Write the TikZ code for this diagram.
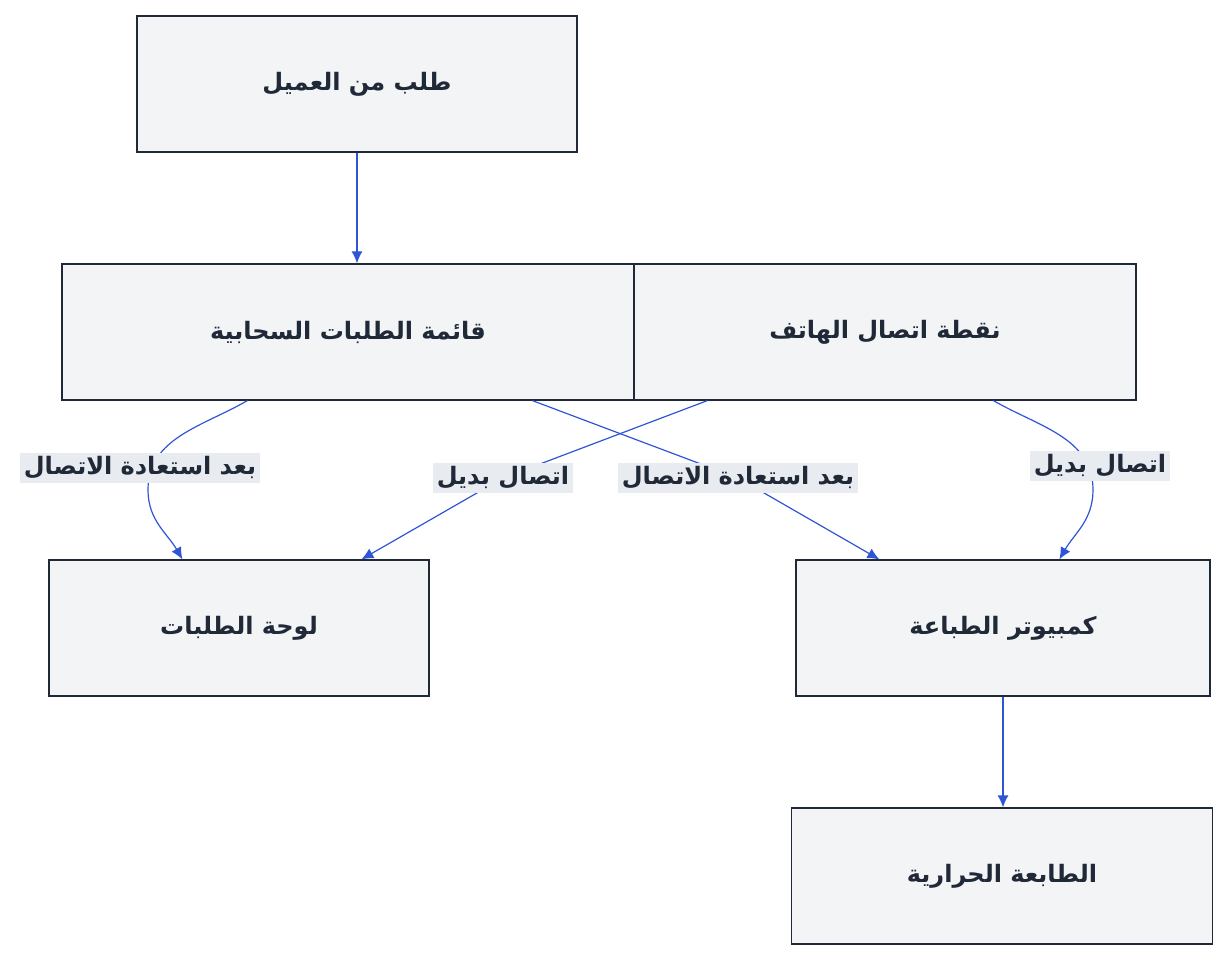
\documentclass[tikz,border=0pt]{standalone}
\usepackage{fontspec}
\newfontfamily\arabicfont[Script=Arabic]{DejaVu Sans}
\usetikzlibrary{calc}
\usetikzlibrary{arrows.meta}
\TeXXeTstate=1
\newcommand{\ar}[1]{\beginR#1\endR}
\definecolor{boxfill}{HTML}{F3F4F6}
\definecolor{boxline}{HTML}{1F2937}
\definecolor{link}{HTML}{2F55D4}
\definecolor{lblfill}{HTML}{E8EBEF}
\tikzset{
  box/.style={draw=boxline, fill=boxfill, line width=1.2pt, minimum height=136pt, font=\arabicfont\bfseries\fontsize{24}{28}\selectfont, text=boxline},
  lbl/.style={fill=lblfill, inner sep=4pt, font=\arabicfont\bfseries\fontsize{24}{28}\selectfont, text=boxline},
  link/.style={draw=link, line width=1.2pt, -{Latex[length=12pt,width=11pt]}},
}
\begin{document}
\begin{tikzpicture}[x=1pt,y=-1pt]
\useasboundingbox (0,0) rectangle (1232,960);
% nodes
\node[box, minimum width=440pt] (req) at (357,84) {\ar{طلب من العميل}};
\node[box, minimum width=572pt] (cloud) at (348,332) {\ar{قائمة الطلبات السحابية}};
\node[box, minimum width=502pt] (phone) at (885,332) {\ar{نقطة اتصال الهاتف}};
\node[box, minimum width=380pt] (board) at (239,628) {\ar{لوحة الطلبات}};
\node[box, minimum width=414pt] (pc) at (1003,628) {\ar{كمبيوتر الطباعة}};
\node[box, minimum width=421pt] (printer) at (1002,876) {\ar{الطابعة الحرارية}};
% connectors
\draw[link] (req) -- (req |- cloud.north);
\draw[link] ($(cloud.south west)+(186,0)$) to[out=-150,in=90] (148,490) to[out=-90,in=120] ($(board.north west)+(134,0)$);
\draw[link] ($(phone.south west)+(74,0)$) -- (503,478) -- ($(board.north west)+(313,0)$);
\draw[link] ($(cloud.south west)+(471,0)$) -- (738,478) -- ($(pc.north west)+(84,0)$);
\draw[link] ($(phone.south west)+(360,0)$) to[out=-30,in=90] (1093,490) to[out=-90,in=60] ($(pc.north west)+(264,0)$);
\draw[link] (pc) -- (pc.south |- printer.north);
% labels
\node[lbl] (l1) at (140,468) {\ar{بعد استعادة الاتصال}};
\node[lbl] (l2) at (503,478) {\ar{اتصال بديل}};
\node[lbl] (l3) at (738,478) {\ar{بعد استعادة الاتصال}};
\node[lbl] (l4) at (1100,466) {\ar{اتصال بديل}};
\end{tikzpicture}
\end{document}
